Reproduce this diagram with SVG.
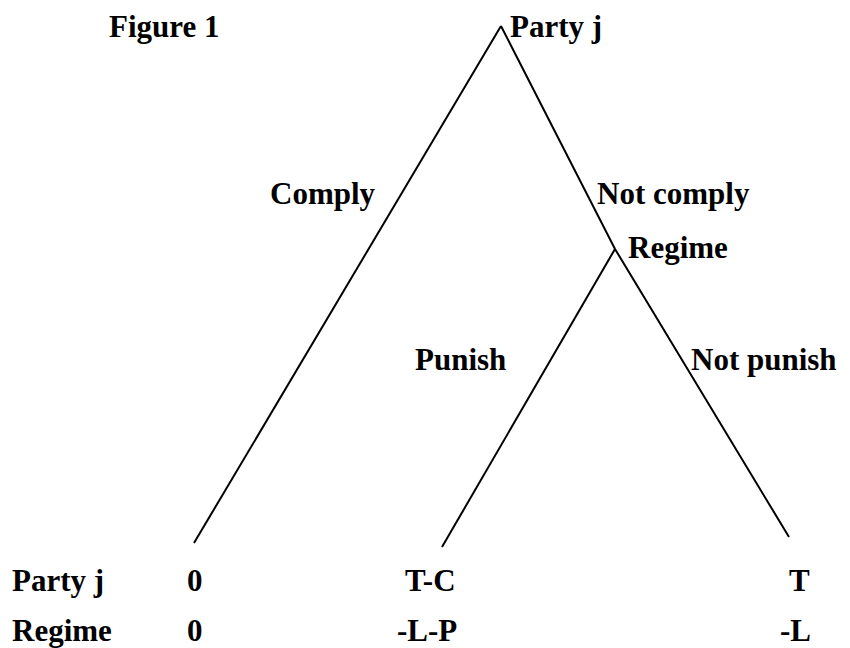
<svg xmlns="http://www.w3.org/2000/svg" width="850" height="648" viewBox="0 0 850 648">
<style>
text{font-family:"Liberation Serif","Times New Roman",serif;font-weight:bold;font-size:31px;fill:#000}
.e{stroke:#000;stroke-width:2;fill:none}
</style>
<rect width="850" height="648" fill="#fff"/>
<g id="connectors">
<line class="e" x1="501" y1="26" x2="194" y2="543"/>
<polyline class="e" points="501,26 615,249 789,537"/>
<line class="e" x1="615" y1="249" x2="442" y2="547"/>
</g>
<text x="109" y="37">Figure 1</text>
<g id="root"><text x="510" y="37">Party j</text></g>
<g id="regime"><text x="628" y="258">Regime</text></g>
<g id="labels">
<text x="270" y="204">Comply</text>
<text x="597" y="204">Not comply</text>
<text x="415" y="370">Punish</text>
<text x="691" y="370">Not punish</text>
</g>
<g id="payoffs">
<text x="12" y="591">Party j</text>
<text x="187" y="591">0</text>
<text x="405" y="591">T-C</text>
<text x="789" y="591">T</text>
<text x="12" y="641">Regime</text>
<text x="187" y="641">0</text>
<text x="397" y="641">-L-P</text>
<text x="780" y="641">-L</text>
</g>
</svg>
